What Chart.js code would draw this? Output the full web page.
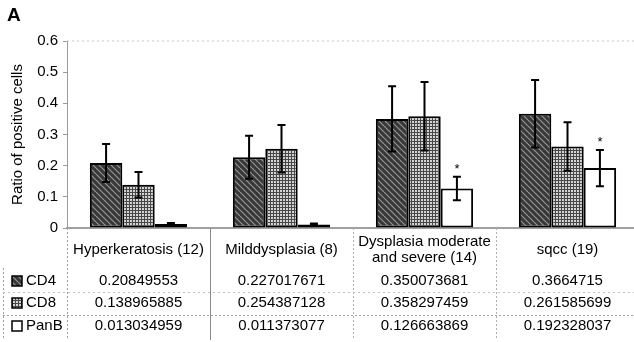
<!DOCTYPE html>
<html>
<head>
<meta charset="utf-8">
<script src="https://cdn.jsdelivr.net/npm/chart.js@4.4.0/dist/chart.umd.min.js"></script>
<style>
  html, body { margin: 0; padding: 0; background: #fff; overflow: hidden; }
  canvas { display: block; }
</style>
</head>
<body>
<canvas id="chart" width="646" height="342"></canvas>
<script>
// categories and series
const categories = ['Hyperkeratosis (12)', 'Milddysplasia (8)', ['Dysplasia moderate', 'and severe (14)'], 'sqcc (19)'];
const seriesNames = ['CD4', 'CD8', 'PanB'];
const cd4 = [0.20849553, 0.227017671, 0.350073681, 0.3664715];
const cd8 = [0.138965885, 0.254387128, 0.358297459, 0.261585699];
const panB = [0.013034959, 0.011373077, 0.126663869, 0.192328037];
// error bar half-lengths
const cd4Err = [0.061, 0.069, 0.105, 0.108];
const cd8Err = [0.041, 0.076, 0.110, 0.078];
const panBErr = [0.003, 0.003, 0.038, 0.058];
const panBMarks = ['', '', '*', '*'];
const yTicks = [0, 0.1, 0.2, 0.3, 0.4, 0.5, 0.6];

const FONT = "'Liberation Sans', Arial, sans-serif";
const canvas = document.getElementById('chart');
const mainCtx = canvas.getContext('2d');

function makePattern(w, h, draw) {
    const tile = document.createElement('canvas');
    tile.width = w;
    tile.height = h;
    draw(tile.getContext('2d'), w, h);
    return mainCtx.createPattern(tile, 'repeat');
}

// dark diagonal hatch
const cd4Fill = makePattern(6, 6, (c, w, h) => {
    c.fillStyle = '#383838';
    c.fillRect(0, 0, w, h);
    c.strokeStyle = '#969696';
    c.lineWidth = 1.2;
    for (let x = -6; x <= 6; x += 6) {
        c.beginPath();
        c.moveTo(x, 0);
        c.lineTo(x + 6, 6);
        c.stroke();
    }
});

// mid-grey grid
const cd8Fill = makePattern(3, 3, (c, w, h) => {
    c.fillStyle = '#d4d4d4';
    c.fillRect(0, 0, w, h);
    c.fillStyle = '#474747';
    c.fillRect(0, 0, w, 1);
    c.fillRect(0, 0, 1, h);
});

const fills = [cd4Fill, cd8Fill, '#ffffff'];

const errorBars = {
    id: 'errorBars',
    afterDatasetsDraw(chart) {
        const ctx = chart.ctx;
        const y = chart.scales.y;
        ctx.save();
        ctx.strokeStyle = '#000';
        ctx.lineWidth = 2;
        chart.data.datasets.forEach((ds, di) => {
            const meta = chart.getDatasetMeta(di);
            meta.data.forEach((bar, i) => {
                const v = ds.data[i];
                const e = ds.errors[i];
                const top = y.getPixelForValue(v + e);
                const bot = y.getPixelForValue(v - e);
                ctx.beginPath();
                ctx.moveTo(bar.x, top);
                ctx.lineTo(bar.x, bot);
                ctx.moveTo(bar.x - 4, top);
                ctx.lineTo(bar.x + 4, top);
                ctx.moveTo(bar.x - 4, bot);
                ctx.lineTo(bar.x + 4, bot);
                ctx.stroke();
                if (ds.marks && ds.marks[i]) {
                    ctx.fillStyle = '#000';
                    ctx.font = '13px ' + FONT;
                    ctx.textAlign = 'center';
                    ctx.textBaseline = 'alphabetic';
                    ctx.fillText(ds.marks[i], bar.x, top - 4);
                }
            });
        });
        ctx.restore();
    }
};

function rule(ctx, x1, y1, x2, y2, color, dash) {
    ctx.save();
    ctx.strokeStyle = color;
    ctx.lineWidth = 1;
    ctx.setLineDash(dash || []);
    ctx.beginPath();
    ctx.moveTo(x1, y1);
    ctx.lineTo(x2, y2);
    ctx.stroke();
    ctx.restore();
}

const dataTable = {
    id: 'dataTable',
    afterDraw(chart) {
        const ctx = chart.ctx;
        const area = chart.chartArea;
        const x = chart.scales.x;
        const centers = categories.map((_, i) => x.getPixelForValue(i));
        const edges = [area.left];
        for (let i = 0; i < centers.length - 1; i++) edges.push((centers[i] + centers[i + 1]) / 2);
        const tableBottom = 340;
        const rowY = [281, 303, 326];
        const values = [cd4, cd8, panB];

        // panel letter
        ctx.save();
        ctx.fillStyle = '#000';
        ctx.font = 'bold 19px ' + FONT;
        ctx.textAlign = 'left';
        ctx.textBaseline = 'alphabetic';
        ctx.fillText('A', 7, 21);
        ctx.restore();

        // table rules and plot frame
        rule(ctx, area.left, area.top, area.right, area.top, '#c8c8c8', [2, 3]);
        rule(ctx, area.left + 0.5, area.bottom, area.left + 0.5, tableBottom, '#a0a0a0', [2, 2]);
        rule(ctx, edges[1] + 0.5, area.bottom, edges[1] + 0.5, tableBottom, '#8a8a8a');
        rule(ctx, edges[2] + 0.5, area.bottom, edges[2] + 0.5, tableBottom, '#b0b0b0', [2, 2]);
        rule(ctx, edges[3] + 0.5, area.bottom, edges[3] + 0.5, tableBottom, '#b0b0b0', [2, 2]);
        rule(ctx, 3.5, 268, 3.5, tableBottom, '#a0a0a0', [2, 2]);
        rule(ctx, 3, 292.5, area.right, 292.5, '#c0c0c0', [2, 3]);
        rule(ctx, 3, 315.5, area.right, 315.5, '#a0a0a0', [2, 2]);

        ctx.save();
        ctx.fillStyle = '#000';
        ctx.font = '15px ' + FONT;
        ctx.textAlign = 'center';
        ctx.textBaseline = 'middle';

        // category labels
        categories.forEach((label, i) => {
            const lines = Array.isArray(label) ? label : [label];
            const start = 250 - (lines.length - 1) * 8;
            lines.forEach((line, li) => ctx.fillText(line, centers[i], start + li * 16));
        });

        // value rows
        values.forEach((row, r) => {
            row.forEach((v, i) => ctx.fillText(String(v), centers[i], rowY[r]));
        });

        // series names with keys
        ctx.textAlign = 'left';
        seriesNames.forEach((name, r) => {
            ctx.fillStyle = '#000';
            ctx.fillText(name, 26, rowY[r]);
            ctx.fillStyle = fills[r];
            ctx.fillRect(12, rowY[r] - 5, 10, 10);
            ctx.strokeStyle = '#000';
            ctx.lineWidth = 1.5;
            ctx.strokeRect(12, rowY[r] - 5, 10, 10);
        });
        ctx.restore();
    }
};

new Chart(canvas, {
    type: 'bar',
    data: {
        labels: categories,
        datasets: [
            { label: seriesNames[0], data: cd4, errors: cd4Err, backgroundColor: fills[0] },
            { label: seriesNames[1], data: cd8, errors: cd8Err, backgroundColor: fills[1] },
            { label: seriesNames[2], data: panB, errors: panBErr, marks: panBMarks, backgroundColor: fills[2] }
        ]
    },
    options: {
        responsive: false,
        animation: false,
        layout: { padding: { left: 5, top: 41, right: 7, bottom: 114 } },
        datasets: {
            bar: {
                categoryPercentage: 0.68,
                barPercentage: 1,
                borderWidth: 2,
                borderColor: '#000',
                borderSkipped: false
            }
        },
        plugins: {
            legend: { display: false },
            tooltip: { enabled: false }
        },
        scales: {
            x: {
                grid: { display: false },
                ticks: { display: false },
                border: { color: '#a0a0a0', width: 2 },
                afterFit: scale => { scale.height = 0; }
            },
            y: {
                min: 0,
                max: 0.6,
                afterBuildTicks: scale => { scale.ticks = yTicks.map(v => ({ value: v })); },
                afterFit: scale => { scale.width = 62; },
                grid: { drawOnChartArea: false, drawTicks: true, tickLength: 4, color: '#9a9a9a' },
                border: { color: '#9a9a9a', width: 1 },
                ticks: {
                    color: '#000',
                    padding: 5,
                    font: { family: FONT, size: 15 },
                    callback: v => String(+v.toFixed(1))
                },
                title: {
                    display: true,
                    text: 'Ratio of positive cells',
                    color: '#000',
                    font: { family: FONT, size: 15 },
                    padding: { top: 4, bottom: 0 }
                }
            }
        }
    },
    plugins: [errorBars, dataTable]
});
</script>
</body>
</html>
